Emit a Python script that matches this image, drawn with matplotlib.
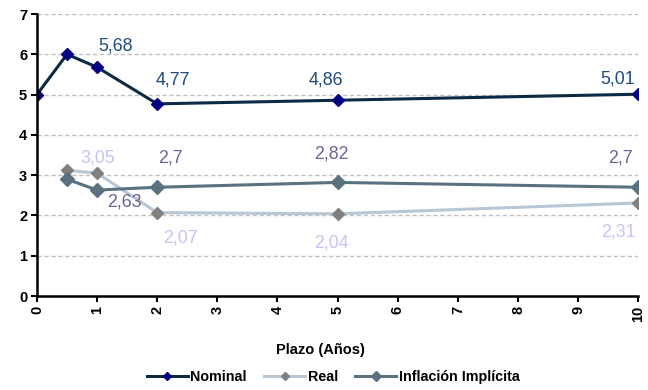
import matplotlib
matplotlib.use("Agg")
import matplotlib.pyplot as plt

plt.rcParams['font.family'] = ['Liberation Sans', 'DejaVu Sans']

# Plazo en años
nominal_x = [0, 0.5, 1, 2, 5, 10]
nominal_y = [5.0, 6.0, 5.68, 4.77, 4.86, 5.01]
real_x = [0.5, 1, 2, 5, 10]
real_y = [3.12, 3.05, 2.07, 2.04, 2.31]
infl_x = [0.5, 1, 2, 5, 10]
infl_y = [2.9, 2.63, 2.7, 2.82, 2.7]

x_ticks = list(range(0, 11))
y_ticks = list(range(0, 8))

# which points get a value label, and pixel offsets for each label
nominal_lbl_idx = [2, 3, 4, 5]
nominal_lbl_off = [(18, 21), (16, 24), (-12, 20), (-21, 15)]
real_lbl_idx = [1, 2, 3, 4]
real_lbl_off = [(1, 15), (23, -25), (-6, -29), (-20, -29)]
infl_lbl_idx = [1, 2, 3, 4]
infl_lbl_off = [(27, -12), (13, 29), (-6, 28), (-18, 29)]

fig = plt.figure(figsize=(6.48, 3.9), dpi=100)
ax = fig.add_axes([0.057, 0.241, 0.928, 0.723])

ax.plot(nominal_x, nominal_y, color='#0b2a45', lw=2.2, marker='D', ms=6.5,
        mfc='#000080', mec='#000080', label='Nominal', zorder=4)
ax.plot(real_x, real_y, color='#b8c7d6', lw=2.2, marker='D', ms=6.5,
        mfc='#808080', mec='#808080', label='Real', zorder=3)
ax.plot(infl_x, infl_y, color='#5a7280', lw=2.2, marker='D', ms=7,
        mfc='#5a7280', mec='#5a7280', label='Inflación Implícita', zorder=3)

def fmt(v):
    s = f"{v:.2f}".rstrip('0').rstrip('.')
    return s.replace('.', ',')

def put_labels(xs, ys, idxs, offs, color):
    for i, (dx, dy) in zip(idxs, offs):
        ax.annotate(fmt(ys[i]), (xs[i], ys[i]), xytext=(dx, dy),
                    textcoords='offset pixels', ha='center', va='center',
                    fontsize=12.8, color=color, zorder=5)

put_labels(nominal_x, nominal_y, nominal_lbl_idx, nominal_lbl_off, '#1f4a7a')
put_labels(real_x, real_y, real_lbl_idx, real_lbl_off, '#c4c4f2')
put_labels(infl_x, infl_y, infl_lbl_idx, infl_lbl_off, '#67669a')

ax.set_xlim(0, 10)
ax.set_ylim(0, 7)
ax.set_xticks(x_ticks)
ax.set_yticks(y_ticks)
ax.set_xticklabels([str(t) for t in x_ticks], rotation=90, fontweight='bold', fontsize=10.5)
ax.set_yticklabels([str(t) for t in y_ticks], fontweight='bold', fontsize=10.5)
ax.tick_params(axis='both', length=4, width=1.5, color='black', pad=3)

ax.grid(axis='y', linestyle=(0, (3, 2)), color='#c0c0c0', lw=1)
ax.set_axisbelow(True)
for s in ['top', 'right']:
    ax.spines[s].set_visible(False)
ax.spines['left'].set_linewidth(1.8)
ax.spines['bottom'].set_linewidth(1.8)
ax.spines['left'].set_zorder(6)
ax.spines['bottom'].set_zorder(6)

ax.set_xlabel('Plazo (Años)', fontweight='bold', fontsize=10.5)
ax.xaxis.set_label_coords(0.472, -0.19)
ax.xaxis.label.set_va('center')

leg = fig.legend(loc='center', bbox_to_anchor=(0.514, 0.033), ncol=3,
                 frameon=False, prop={'weight': 'bold', 'size': 10.3},
                 handlelength=2.9, columnspacing=1.2, handletextpad=0.15,
                 markerscale=0.7, borderpad=0)

fig.savefig('out.png', dpi=100)
